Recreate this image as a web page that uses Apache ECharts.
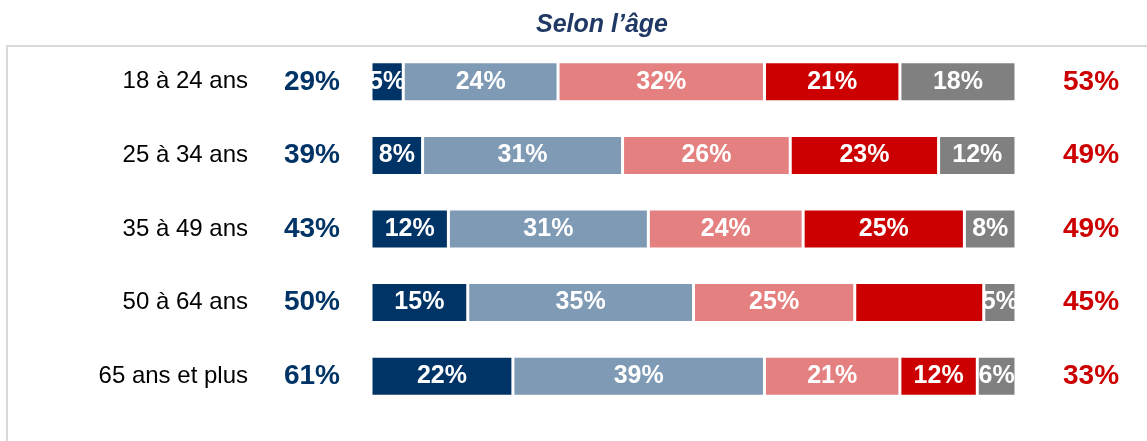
<!DOCTYPE html>
<html>
<head>
<meta charset="utf-8">
<script src="https://cdn.jsdelivr.net/npm/echarts@6/dist/echarts.min.js"></script>
<style>
  html, body { margin: 0; padding: 0; background: #fff; }
  #chart { width: 1147px; height: 441px; }
</style>
</head>
<body>
<div id="chart"></div>
<script>
var categories = ['18 à 24 ans', '25 à 34 ans', '35 à 49 ans', '50 à 64 ans', '65 ans et plus']
var seriesNames = ['s1', 's2', 's3', 's4', 's5']
var s1 = [5, 8, 12, 15, 22]
var s2 = [24, 31, 31, 35, 39]
var s3 = [32, 26, 24, 25, 21]
var s4 = [21, 23, 25, 20, 12]
var s5 = [18, 12, 8, 5, 6]
var totalLeft = ['29%', '39%', '43%', '50%', '61%']
var totalRight = ['53%', '49%', '49%', '45%', '33%']
// series index, row index : segments drawn without label
var hiddenLabels = [[3, 3]]

var colors = ['#003366', '#7F9AB5', '#E58080', '#CC0000', '#808080']
var narrow = "'Liberation Sans Narrow', 'Liberation Sans', sans-serif"

var values = [s1, s2, s3, s4, s5]

var series = values.map(function (vals, si) {
  return {
    name: seriesNames[si],
    type: 'bar',
    stack: 'total',
    barWidth: 40,
    itemStyle: { color: colors[si], borderColor: '#fff', borderWidth: 1.5 },
    label: {
      show: true,
      position: 'inside',
      color: '#fff',
      fontFamily: narrow,
      fontWeight: 'bold',
      fontSize: 25,
      formatter: '{c}%'
    },
    data: vals.map(function (v, ri) {
      var hide = hiddenLabels.some(function (h) { return h[0] === si && h[1] === ri })
      return hide ? { value: v, label: { show: false } } : v
    })
  }
})

var chartDom = document.getElementById('chart')
var myChart = echarts.init(chartDom)

var option = {
  animation: false,
  title: {
    text: 'Selon l\u2019âge',
    left: 597,
    textAlign: 'center',
    top: 8,
    textStyle: {
      fontFamily: narrow,
      fontStyle: 'italic',
      fontWeight: 'bold',
      fontSize: 25,
      color: '#1F3864'
    }
  },
  graphic: [
    {
      type: 'polyline',
      shape: { points: [[7, 441], [7, 46], [1147, 46]] },
      style: { stroke: '#D9D9D9', lineWidth: 2, fill: null },
      silent: true
    }
  ],
  grid: { left: 371, right: 131, top: 45, bottom: 28 },
  xAxis: {
    type: 'value',
    min: 0,
    max: 100,
    show: false
  },
  yAxis: [
    {
      type: 'category',
      inverse: true,
      data: categories,
      axisLine: { show: false },
      axisTick: { show: false },
      axisLabel: {
        margin: 123,
        color: '#000',
        fontFamily: "'Liberation Sans', sans-serif",
        fontSize: 24
      }
    },
    {
      type: 'category',
      inverse: true,
      position: 'left',
      data: totalLeft,
      axisLine: { show: false },
      axisTick: { show: false },
      axisLabel: {
        margin: 31,
        color: '#003366',
        fontFamily: narrow,
        fontWeight: 'bold',
        fontSize: 28
      }
    },
    {
      type: 'category',
      inverse: true,
      position: 'right',
      data: totalRight,
      axisLine: { show: false },
      axisTick: { show: false },
      axisLabel: {
        margin: 47,
        color: '#CC0000',
        fontFamily: narrow,
        fontWeight: 'bold',
        fontSize: 28
      }
    }
  ],
  series: series
}

option && myChart.setOption(option)
</script>
</body>
</html>
